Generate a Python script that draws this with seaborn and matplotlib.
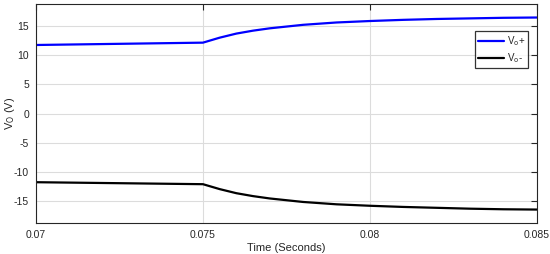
import numpy as np
import pandas as pd
import matplotlib
matplotlib.use("Agg")
import matplotlib.pyplot as plt
import seaborn as sns

time_s = [0.070, 0.075, 0.0755, 0.076, 0.0765, 0.077, 0.078, 0.079, 0.080, 0.081, 0.082, 0.083, 0.084, 0.085]
vo_plus = [11.75, 12.15, 13.0, 13.7, 14.2, 14.6, 15.2, 15.6, 15.85, 16.05, 16.2, 16.3, 16.4, 16.45]
vo_minus = [-11.72, -12.06, -12.9, -13.6, -14.1, -14.5, -15.1, -15.5, -15.75, -15.95, -16.1, -16.25, -16.35, -16.4]
series_labels = [r"V$_{\mathrm{o}}$+", r"V$_{\mathrm{o}}$-"]
x_ticks = [0.07, 0.075, 0.08, 0.085]
x_tick_labels = ["0.07", "0.075", "0.08", "0.085"]
y_ticks = [-15, -10, -5, 0, 5, 10, 15]

df = pd.concat([
    pd.DataFrame({"t": time_s, "v": vo_plus, "s": series_labels[0]}),
    pd.DataFrame({"t": time_s, "v": vo_minus, "s": series_labels[1]}),
])

sns.set_theme(style="white")
plt.rcParams["font.family"] = ["Liberation Sans", "DejaVu Sans"]
plt.rcParams["axes.unicode_minus"] = False

fig = plt.figure(figsize=(5.5, 2.54), dpi=100)
ax = fig.add_axes([0.0655, 0.122, 0.9105, 0.862])
sns.lineplot(data=df, x="t", y="v", hue="s", palette=["#0000ff", "#000000"],
             linewidth=1.6, ax=ax, legend=True)

ax.set_xlim(0.07, 0.085)
ax.set_ylim(-18.7, 18.75)
ax.set_xticks(x_ticks)
ax.set_xticklabels(x_tick_labels)
ax.set_yticks(y_ticks)
ax.set_yticklabels([str(v) for v in y_ticks])
ax.grid(True, color="#dcdcdc", linewidth=0.8)
ax.set_axisbelow(True)
for sp in ax.spines.values():
    sp.set_color("#262626")
    sp.set_linewidth(0.8)
ax.tick_params(direction="in", top=True, right=True, length=4, width=0.8,
               color="#262626", labelsize=7.5, labelcolor="#262626", pad=5)
ax.set_xlabel("Time (Seconds)", fontsize=8, color="#262626", labelpad=2)
ax.set_ylabel(r"V$_{\mathrm{O}}$ (V)", fontsize=8, color="#262626")
ax.yaxis.set_label_coords(-0.038, 0.5)

leg = ax.legend(loc="upper right", bbox_to_anchor=(0.982, 0.875), fontsize=7,
                frameon=True, fancybox=False, handlelength=2.6, handletextpad=0.3,
                borderpad=0.3, labelspacing=0.3, borderaxespad=0)
leg.get_frame().set_edgecolor("#000000")
leg.get_frame().set_linewidth(0.9)
leg.set_title(None)

fig.savefig("out.png", dpi=100)
